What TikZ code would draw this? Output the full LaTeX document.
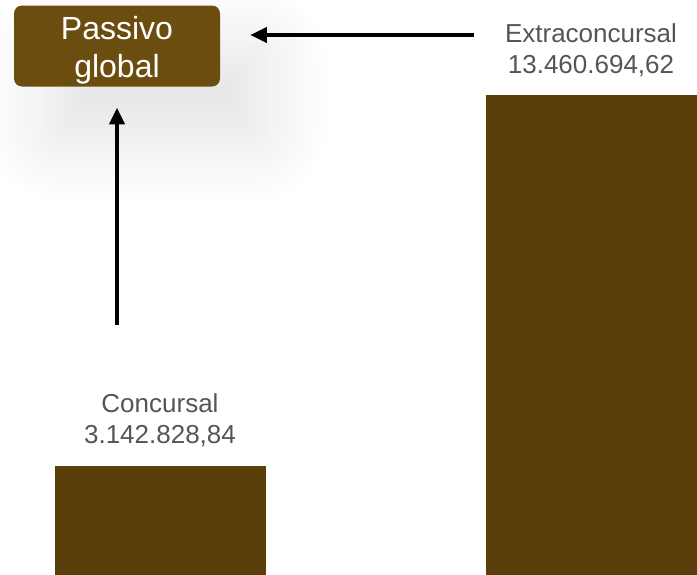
\documentclass[tikz,border=0pt]{standalone}
\usepackage{fontspec}
\setmainfont{Liberation Sans}
\usetikzlibrary{arrows.meta,shadows.blur}
\definecolor{barbrown}{HTML}{5A3F0A}
\definecolor{boxbrown}{HTML}{6B4D0F}
\definecolor{labelgray}{HTML}{555555}

\begin{document}
\begin{tikzpicture}[x=0.75pt,y=-0.75pt,
    total/.style={fill=boxbrown, rounded corners=6pt, text=white,
      minimum width=154.5pt, minimum height=60.75pt, inner sep=0pt,
      font=\fontsize{24}{28.5}\selectfont,
      blur shadow={shadow xshift=30pt, shadow yshift=-36pt, shadow blur radius=52pt,
        shadow opacity=12, shadow blur steps=30}},
    amount/.style={text=labelgray, align=center, inner sep=0pt,
      font=\fontsize{19.5}{23.5}\selectfont},
    flow/.style={line width=2.4pt, -{Triangle[length=12.5pt,width=11.5pt]}}]
  \useasboundingbox (0,0) rectangle (697,575);

  % Balken
  \fill[barbrown] (55,466) rectangle (266,575);
  \fill[barbrown] (486,95) rectangle (697,575);

  % Beschriftungen
  \node[amount] (conc) at (160,420) {Concursal\\3.142.828,84};
  \node[amount] (extra) at (591,50) {Extraconcursal\\13.460.694,62};

  % Gesamt
  \node[total] (passivo) at (117,46)
    {\raisebox{-3.5pt}[\height][\depth]{\begin{tabular}{@{}c@{}}Passivo\\global\end{tabular}}};

  % Pfeile
  \coordinate (concTop) at (117,325);
  \coordinate (extraLeft) at (474,35);
  \draw[flow, shorten >=15.75pt] (concTop) -- (passivo.south);
  \draw[flow, shorten >=22.5pt] (extraLeft) -- (extraLeft -| passivo.east);
\end{tikzpicture}
\end{document}
